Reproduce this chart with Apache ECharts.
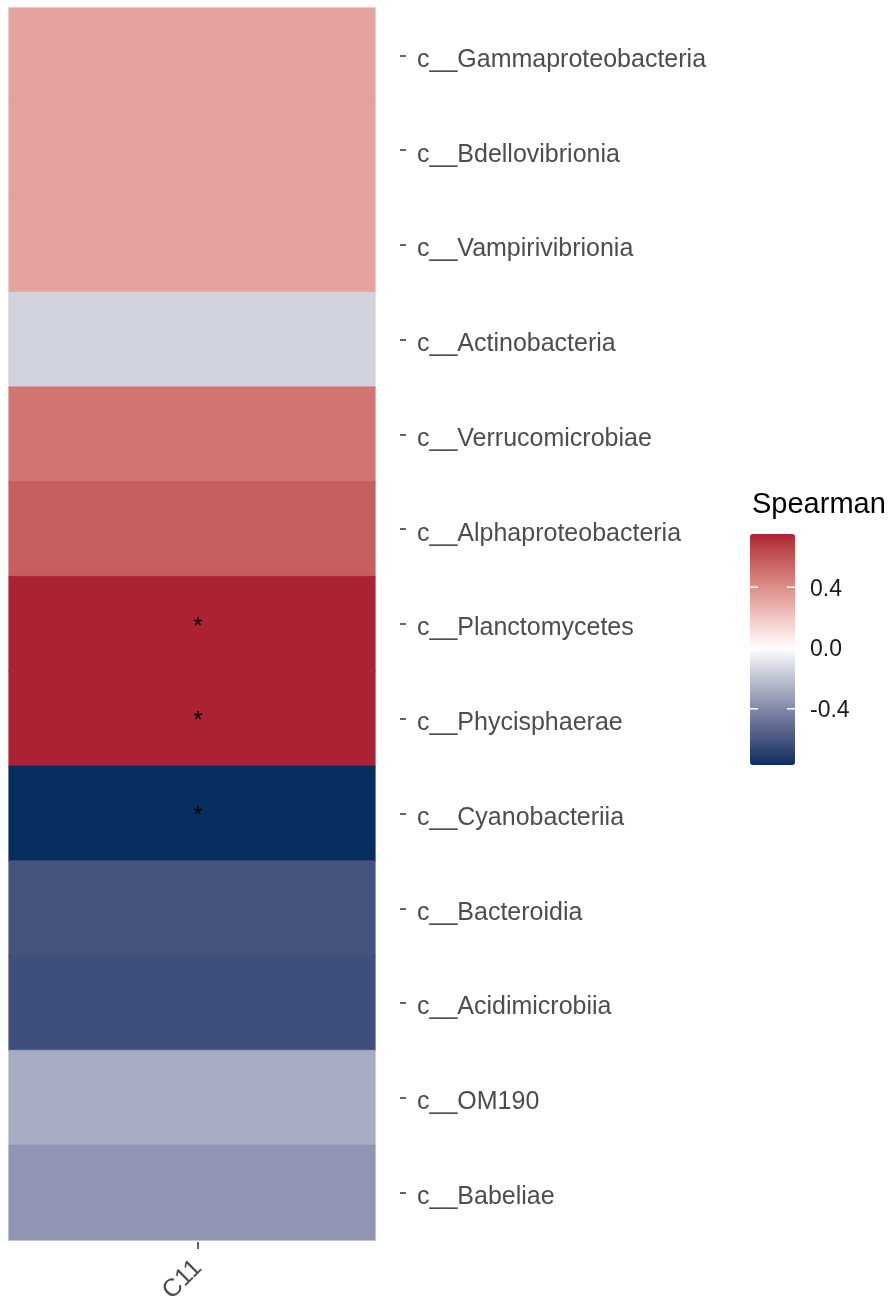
<!DOCTYPE html>
<html>
<head>
<meta charset="utf-8">
<script src="https://cdn.jsdelivr.net/npm/echarts@6/dist/echarts.min.js"></script>
<style>
  html, body { margin: 0; padding: 0; background: #ffffff; }
  #chart { width: 889px; height: 1306px; }
</style>
</head>
<body>
<div id="chart"></div>
<script>
// Taxa (top to bottom) and the single sample column
const taxa = [
  'c__Gammaproteobacteria', 'c__Bdellovibrionia', 'c__Vampirivibrionia',
  'c__Actinobacteria', 'c__Verrucomicrobiae', 'c__Alphaproteobacteria',
  'c__Planctomycetes', 'c__Phycisphaerae', 'c__Cyanobacteriia',
  'c__Bacteroidia', 'c__Acidimicrobiia', 'c__OM190', 'c__Babeliae'
];
const samples = ['C11'];

// Spearman correlation of each taxon with C11
const spearman = [0.33, 0.33, 0.33, -0.15, 0.49, 0.57, 0.75, 0.75, -0.77, -0.61, -0.63, -0.28, -0.36];
// Significance flags (drawn as "*")
const significant = [false, false, false, false, false, false, true, true, true, false, false, false, false];

// Colour-bar breaks
const legendBreaks = [0.4, 0.0, -0.4];
const legendBreakLabels = ['0.4', '0.0', '-0.4'];

// Diverging palette end points
const lowColor = '#062E5F';
const midColor = '#FFFFFF';
const highColor = '#A8192D';

const FONT = 'Liberation Sans, Arial, sans-serif';

// --- Lab colour interpolation helpers ---
function hexToRgb(h) {
  h = h.replace('#', '');
  return [parseInt(h.slice(0, 2), 16), parseInt(h.slice(2, 4), 16), parseInt(h.slice(4, 6), 16)];
}
function toLin(c) { c /= 255; return c <= 0.04045 ? c / 12.92 : Math.pow((c + 0.055) / 1.055, 2.4); }
function fromLin(c) {
  c = c <= 0.0031308 ? 12.92 * c : 1.055 * Math.pow(c, 1 / 2.4) - 0.055;
  return Math.round(Math.max(0, Math.min(1, c)) * 255);
}
function rgbToLab(rgb) {
  const R = toLin(rgb[0]), G = toLin(rgb[1]), B = toLin(rgb[2]);
  const X = (0.4124 * R + 0.3576 * G + 0.1805 * B) / 0.95047;
  const Y = (0.2126 * R + 0.7152 * G + 0.0722 * B);
  const Z = (0.0193 * R + 0.1192 * G + 0.9505 * B) / 1.08883;
  const f = t => t > 0.008856 ? Math.cbrt(t) : 7.787 * t + 16 / 116;
  const fx = f(X), fy = f(Y), fz = f(Z);
  return [116 * fy - 16, 500 * (fx - fy), 200 * (fy - fz)];
}
function labToRgb(lab) {
  const fy = (lab[0] + 16) / 116, fx = fy + lab[1] / 500, fz = fy - lab[2] / 200;
  const finv = t => t * t * t > 0.008856 ? t * t * t : (t - 16 / 116) / 7.787;
  const X = finv(fx) * 0.95047, Y = finv(fy), Z = finv(fz) * 1.08883;
  const R = 3.2406 * X - 1.5372 * Y - 0.4986 * Z;
  const G = -0.9689 * X + 1.8758 * Y + 0.0415 * Z;
  const B = 0.0557 * X - 0.2040 * Y + 1.0570 * Z;
  return 'rgb(' + fromLin(R) + ',' + fromLin(G) + ',' + fromLin(B) + ')';
}
const labLow = rgbToLab(hexToRgb(lowColor));
const labMid = rgbToLab(hexToRgb(midColor));
const labHigh = rgbToLab(hexToRgb(highColor));
function lerpLab(a, b, t) { return [a[0] + (b[0] - a[0]) * t, a[1] + (b[1] - a[1]) * t, a[2] + (b[2] - a[2]) * t]; }

const vMin = Math.min(...spearman);
const vMax = Math.max(...spearman);
const maxAbs = Math.max(Math.abs(vMin), Math.abs(vMax));
// colour for a value, midpoint fixed at zero
function colourFor(v) {
  const t = 0.5 + v / (2 * maxAbs);
  return t < 0.5 ? labToRgb(lerpLab(labLow, labMid, t / 0.5)) : labToRgb(lerpLab(labMid, labHigh, (t - 0.5) / 0.5));
}
const nStops = 61;
const gradientStops = [];
for (let i = 0; i < nStops; i++) gradientStops.push(colourFor(vMin + (vMax - vMin) * i / (nStops - 1)));

// heatmap cells (a thin same-colour border hides seams between equal tiles)
const cells = taxa.map((t, i) => ({
  value: [0, i, spearman[i]],
  itemStyle: { borderColor: colourFor(spearman[i]), borderWidth: 0.6 }
}));

// colour bar geometry
const barLeft = 750, barTop = 534, barW = 45, barH = 231;
const yOf = v => barTop + (vMax - v) / (vMax - vMin) * barH;

const graphics = [{
  type: 'text', left: 752, top: 490,
  style: { text: 'Spearman', fontSize: 29, fontFamily: FONT, fill: '#000000' }
}];
legendBreaks.forEach((b, i) => {
  const y = yOf(b);
  graphics.push({ type: 'line', shape: { x1: barLeft, y1: y, x2: barLeft + 8, y2: y }, style: { stroke: '#ffffff', lineWidth: 1.5 }, z: 100 });
  graphics.push({ type: 'line', shape: { x1: barLeft + barW - 8, y1: y, x2: barLeft + barW, y2: y }, style: { stroke: '#ffffff', lineWidth: 1.5 }, z: 100 });
  graphics.push({
    type: 'text', x: 810, y: y + 2,
    style: { text: legendBreakLabels[i], fontSize: 23, fontFamily: FONT, fill: '#1a1a1a', verticalAlign: 'middle', align: 'left' },
    z: 100
  });
});

const chart = echarts.init(document.getElementById('chart'), null, { renderer: 'canvas' });
chart.setOption({
  backgroundColor: '#ffffff',
  animation: false,
  grid: [
    // tile panel
    { left: 9, top: 8, width: 366, height: 1232, containLabel: false },
    // panel carrying the sample axis (tick centred on the column position)
    { left: 9, top: 8, width: 378, height: 1232, containLabel: false }
  ],
  xAxis: [{
    type: 'category', data: samples, gridIndex: 0,
    axisLine: { show: false }, axisTick: { show: false }, axisLabel: { show: false }, splitLine: { show: false }
  }, {
    type: 'category', data: samples, gridIndex: 1, position: 'bottom', offset: 6,
    axisLine: { show: false },
    axisTick: { show: true, length: 7, lineStyle: { color: '#333333', width: 1.5 }, alignWithLabel: true },
    axisLabel: {
      rotate: 45, margin: 22, color: '#4D4D4D', fontFamily: FONT, fontSize: 25,
      formatter: v => '{s|' + v + '}',
      rich: { s: { fontSize: 25, color: '#4D4D4D', fontFamily: FONT, padding: [0, 0, 0, 0] } }
    },
    splitLine: { show: false }
  }],
  yAxis: [{
    type: 'category', data: taxa, inverse: true, position: 'right', offset: 25, gridIndex: 0,
    axisLine: { show: false },
    axisTick: { show: true, length: 6, lineStyle: { color: '#333333', width: 1.5 }, alignWithLabel: true },
    axisLabel: {
      margin: 17, color: '#4D4D4D', fontFamily: FONT, fontSize: 25,
      formatter: v => '{t|' + v + '}',
      rich: { t: { fontSize: 25, color: '#4D4D4D', fontFamily: FONT, padding: [9, 0, 0, 0] } }
    },
    splitLine: { show: false }
  }, {
    type: 'category', data: taxa, inverse: true, gridIndex: 1, show: false
  }],
  visualMap: {
    type: 'continuous', min: vMin, max: vMax, orient: 'vertical',
    left: barLeft, top: barTop, itemWidth: barW, itemHeight: barH, padding: 0,
    calculable: false, hoverLink: false, text: null,
    inRange: { color: gradientStops }, seriesIndex: 0
  },
  series: [{
    type: 'heatmap', data: cells, xAxisIndex: 0, yAxisIndex: 0,
    label: {
      show: true, offset: [6, 3],
      formatter: p => significant[p.data.value[1]] ? '*' : '',
      fontSize: 24, color: '#000000', fontFamily: FONT
    },
    emphasis: { disabled: true }
  }],
  graphic: graphics
});
</script>
</body>
</html>
